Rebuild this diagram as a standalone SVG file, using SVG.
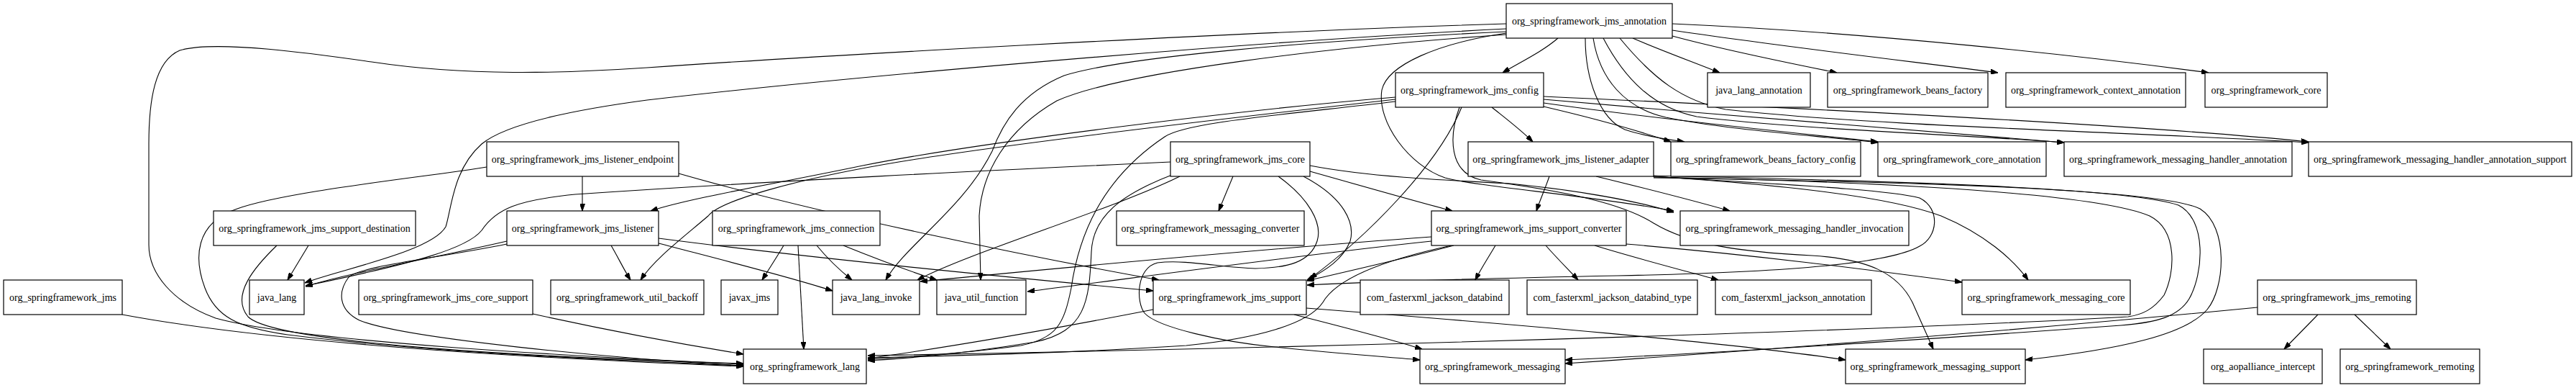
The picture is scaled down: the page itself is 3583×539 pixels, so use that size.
<svg xmlns="http://www.w3.org/2000/svg" width="3583" height="539" viewBox="0 0 3583 539">
<style>
.n rect{fill:#fff;stroke:#000;stroke-width:1.2}
.n text{font-family:"Liberation Serif","Times New Roman",serif;font-size:14px;text-anchor:middle;fill:#000}
.e path{fill:none;stroke:#000;stroke-width:1.1;marker-end:url(#ah)}
</style>
<defs>
<marker id="ah" viewBox="0 0 10 7" refX="10" refY="3.5" markerWidth="10" markerHeight="7" markerUnits="userSpaceOnUse" orient="auto">
<path d="M0,0 L10,3.5 L0,7 z" fill="#000" stroke="#000"/>
</marker>
</defs>
<rect width="3583" height="539" fill="#fff"/>
<g id="edges" class="e">
<path d="M2167,53 C2145,72 2115,86 2090,101"/>
<path d="M2271,53 C2310,70 2360,88 2392,101"/>
<path d="M2326,50 C2400,70 2490,88 2555,101"/>
<path d="M2326,42 C2480,65 2680,88 2779,101"/>
<path d="M2326,33 C2600,45 2900,78 3072,101"/>
<path d="M2205,53 C2205,110 2225,165 2260,180 C2290,190 2320,194 2343,197"/>
<path d="M2216,53 C2225,110 2260,150 2317,163 C2400,180 2520,188 2612,198"/>
<path d="M2230,53 C2260,110 2300,150 2360,162 C2500,180 2750,188 2871,198"/>
<path d="M2253,53 C2300,110 2340,140 2400,152 C2600,175 3000,185 3211,198"/>
<path d="M2095,33 C1700,45 1100,80 900,94 C780,102 650,106 517,86 C440,75 300,55 250,70 C215,85 207,140 207,200 L207,340 C207,380 240,420 300,442 C420,475 800,495 1034,506"/>
<path d="M2095,40 C1700,60 1150,110 900,139 C780,155 700,175 670,200 C630,235 628,290 620,315 C600,350 470,375 424,393"/>
<path d="M2095,44 C1800,58 1560,80 1480,105 C1420,130 1395,170 1380,210 C1340,290 1260,340 1232,389"/>
<path d="M2095,48 C1850,65 1560,100 1470,140 C1400,180 1365,240 1362,300 L1364,389"/>
<path d="M2095,46 C2000,60 1930,90 1922,125 C1915,170 1960,230 2010,247 C2060,260 2200,270 2328,293"/>
<path d="M2075,149 C2095,165 2115,180 2132,197"/>
<path d="M2147,148 C2220,165 2280,182 2324,197"/>
<path d="M2147,143 C2300,165 2500,185 2612,197"/>
<path d="M2147,138 C2400,160 2700,185 2871,198"/>
<path d="M2147,134 C2500,150 3000,175 3211,197"/>
<path d="M1941,135 C1700,155 1350,200 1200,230 C1080,255 960,275 905,293"/>
<path d="M1941,138 C1700,165 1400,200 1250,225 C1100,250 1000,280 985,300 C950,330 910,360 891,389"/>
<path d="M1941,141 C1780,160 1650,170 1620,190 C1530,250 1500,330 1490,400 C1480,450 1470,470 1420,480 C1350,490 1280,495 1207,499"/>
<path d="M2033,149 C2000,230 1900,330 1822,387"/>
<path d="M2030,149 C2015,190 2015,240 2060,250 C2150,262 2250,278 2300,310 C2350,340 2420,350 2520,355 C2600,360 2640,380 2660,420 L2689,485"/>
<path d="M810,245 L810,293"/>
<path d="M677,232 C600,245 400,265 330,290 C270,310 270,360 285,400 C300,440 330,455 400,465 C600,490 850,500 1034,508"/>
<path d="M944,241 C1150,300 1450,360 1612,389"/>
<path d="M1628,225 C1350,238 1100,250 800,270 C720,278 690,290 670,320 C650,345 580,365 425,397"/>
<path d="M1715,245 L1695,293"/>
<path d="M1822,238 C1900,260 1970,280 2020,293"/>
<path d="M1822,230 C1900,245 2000,250 2100,255 C2200,265 2280,280 2328,295"/>
<path d="M1641,245 C1550,290 1350,350 1276,389"/>
<path d="M1630,243 C1560,270 1520,300 1518,350 C1515,420 1510,460 1440,475 C1350,490 1260,498 1207,501"/>
<path d="M1813,245 C1870,275 1885,310 1878,335 C1868,360 1845,375 1818,389"/>
<path d="M1778,245 C1820,275 1840,310 1832,335 C1822,365 1790,372 1746,373 C1700,372 1650,360 1610,365 C1580,372 1580,420 1592,435 C1610,455 1700,475 1773,482 C1850,490 1930,496 1975,500"/>
<path d="M2155,245 C2150,260 2142,278 2137,293"/>
<path d="M2220,245 C2290,262 2360,280 2406,293"/>
<path d="M2300,245 C2450,255 2620,270 2700,300 C2760,325 2800,360 2821,389"/>
<path d="M2299,245 C2450,255 2620,262 2670,275 C2700,290 2695,330 2670,342 C2630,365 2500,378 2250,383 C2050,387 1900,392 1818,396"/>
<path d="M2300,246 C2500,250 2900,262 2990,300 C3030,320 3025,380 3010,410 C2995,430 2980,437 2960,440 C2700,455 2000,480 1207,494"/>
<path d="M2300,244 C2550,250 2950,258 3030,285 C3070,305 3065,380 3045,415 C3030,440 3000,448 2950,452 C2700,470 2400,490 2177,500"/>
<path d="M2300,247 C2600,252 3000,260 3060,290 C3100,315 3095,400 3070,430 C3040,465 2950,485 2817,500"/>
<path d="M429,341 L400,389"/>
<path d="M385,341 C355,370 320,410 345,440 C380,475 700,495 1034,505"/>
<path d="M705,335 C620,355 480,380 425,398"/>
<path d="M705,339 C600,360 500,370 485,385 C470,405 470,430 500,445 C560,470 850,498 1034,508"/>
<path d="M850,341 C860,358 868,375 877,389"/>
<path d="M916,338 C1000,360 1100,385 1158,404"/>
<path d="M916,331 C1100,355 1400,385 1604,404"/>
<path d="M1090,341 C1080,358 1070,373 1060,389"/>
<path d="M1136,341 C1150,358 1165,373 1185,389"/>
<path d="M1110,341 L1118,485"/>
<path d="M1173,341 C1220,360 1260,375 1303,389"/>
<path d="M2080,341 C2070,358 2060,373 2052,389"/>
<path d="M2150,341 C2165,358 2180,373 2195,389"/>
<path d="M2218,341 C2280,360 2350,378 2390,389"/>
<path d="M2022,341 C1950,360 1870,378 1818,390"/>
<path d="M2019,341 C1930,360 1860,385 1840,420 C1820,450 1750,470 1650,480 C1500,490 1300,495 1207,497"/>
<path d="M1991,329 C1700,350 1450,375 1280,391"/>
<path d="M1991,335 C1800,355 1550,390 1429,405"/>
<path d="M2262,339 C2450,355 2600,375 2729,392"/>
<path d="M1604,430 C1450,460 1300,485 1207,498"/>
<path d="M1800,437 C1870,455 1930,470 1978,485"/>
<path d="M1817,428 C2100,450 2400,475 2567,500"/>
<path d="M170,437 C400,480 800,500 1034,509"/>
<path d="M741,436 C850,460 960,480 1034,492"/>
<path d="M3224,437 L3177,485"/>
<path d="M3275,437 L3325,485"/>
<path d="M3140,427 C2800,460 2400,490 2177,505"/>
</g>
<g id="n_jms_annotation" class="n"><rect x="2095" y="5" width="231" height="48"/><text x="2210.5" y="34">org_springframework_jms_annotation</text></g>
<g id="n_jms_config" class="n"><rect x="1941" y="101" width="206" height="48"/><text x="2044" y="130">org_springframework_jms_config</text></g>
<g id="n_java_lang_annotation" class="n"><rect x="2375" y="101" width="143" height="48"/><text x="2446.5" y="130">java_lang_annotation</text></g>
<g id="n_beans_factory" class="n"><rect x="2542" y="101" width="223" height="48"/><text x="2653.5" y="130">org_springframework_beans_factory</text></g>
<g id="n_context_annotation" class="n"><rect x="2790" y="101" width="250" height="48"/><text x="2915" y="130">org_springframework_context_annotation</text></g>
<g id="n_core" class="n"><rect x="3067" y="101" width="170" height="48"/><text x="3152" y="130">org_springframework_core</text></g>
<g id="n_listener_endpoint" class="n"><rect x="677" y="197" width="267" height="48"/><text x="810.5" y="226">org_springframework_jms_listener_endpoint</text></g>
<g id="n_jms_core" class="n"><rect x="1628" y="197" width="194" height="48"/><text x="1725" y="226">org_springframework_jms_core</text></g>
<g id="n_listener_adapter" class="n"><rect x="2042" y="197" width="258" height="48"/><text x="2171" y="226">org_springframework_jms_listener_adapter</text></g>
<g id="n_beans_factory_config" class="n"><rect x="2324" y="197" width="264" height="48"/><text x="2456" y="226">org_springframework_beans_factory_config</text></g>
<g id="n_core_annotation" class="n"><rect x="2612" y="197" width="234" height="48"/><text x="2729" y="226">org_springframework_core_annotation</text></g>
<g id="n_messaging_handler_annotation" class="n"><rect x="2871" y="197" width="317" height="48"/><text x="3029.5" y="226">org_springframework_messaging_handler_annotation</text></g>
<g id="n_messaging_handler_annotation_support" class="n"><rect x="3211" y="197" width="366" height="48"/><text x="3394" y="226">org_springframework_messaging_handler_annotation_support</text></g>
<g id="n_support_destination" class="n"><rect x="297" y="293" width="281" height="48"/><text x="437.5" y="322">org_springframework_jms_support_destination</text></g>
<g id="n_listener" class="n"><rect x="705" y="293" width="211" height="48"/><text x="810.5" y="322">org_springframework_jms_listener</text></g>
<g id="n_connection" class="n"><rect x="991" y="293" width="233" height="48"/><text x="1107.5" y="322">org_springframework_jms_connection</text></g>
<g id="n_messaging_converter" class="n"><rect x="1553" y="293" width="261" height="48"/><text x="1683.5" y="322">org_springframework_messaging_converter</text></g>
<g id="n_support_converter" class="n"><rect x="1991" y="293" width="271" height="48"/><text x="2126.5" y="322">org_springframework_jms_support_converter</text></g>
<g id="n_handler_invocation" class="n"><rect x="2337" y="293" width="318" height="48"/><text x="2496" y="322">org_springframework_messaging_handler_invocation</text></g>
<g id="n_jms" class="n"><rect x="5" y="389" width="165" height="48"/><text x="87.5" y="418">org_springframework_jms</text></g>
<g id="n_java_lang" class="n"><rect x="347" y="389" width="76" height="48"/><text x="385" y="418">java_lang</text></g>
<g id="n_core_support" class="n"><rect x="499" y="389" width="242" height="48"/><text x="620" y="418">org_springframework_jms_core_support</text></g>
<g id="n_util_backoff" class="n"><rect x="766" y="389" width="213" height="48"/><text x="872.5" y="418">org_springframework_util_backoff</text></g>
<g id="n_javax_jms" class="n"><rect x="1003" y="389" width="79" height="48"/><text x="1042.5" y="418">javax_jms</text></g>
<g id="n_java_lang_invoke" class="n"><rect x="1158" y="389" width="121" height="48"/><text x="1218.5" y="418">java_lang_invoke</text></g>
<g id="n_java_util_function" class="n"><rect x="1303" y="389" width="124" height="48"/><text x="1365" y="418">java_util_function</text></g>
<g id="n_jms_support" class="n"><rect x="1604" y="389" width="213" height="48"/><text x="1710.5" y="418">org_springframework_jms_support</text></g>
<g id="n_jackson_databind" class="n"><rect x="1892" y="389" width="207" height="48"/><text x="1995.5" y="418">com_fasterxml_jackson_databind</text></g>
<g id="n_jackson_databind_type" class="n"><rect x="2124" y="389" width="237" height="48"/><text x="2242.5" y="418">com_fasterxml_jackson_databind_type</text></g>
<g id="n_jackson_annotation" class="n"><rect x="2386" y="389" width="217" height="48"/><text x="2494.5" y="418">com_fasterxml_jackson_annotation</text></g>
<g id="n_messaging_core" class="n"><rect x="2729" y="389" width="234" height="48"/><text x="2846" y="418">org_springframework_messaging_core</text></g>
<g id="n_jms_remoting" class="n"><rect x="3140" y="389" width="221" height="48"/><text x="3250.5" y="418">org_springframework_jms_remoting</text></g>
<g id="n_lang" class="n"><rect x="1034" y="485" width="171" height="48"/><text x="1119.5" y="514">org_springframework_lang</text></g>
<g id="n_messaging" class="n"><rect x="1975" y="485" width="202" height="48"/><text x="2076" y="514">org_springframework_messaging</text></g>
<g id="n_messaging_support" class="n"><rect x="2567" y="485" width="250" height="48"/><text x="2692" y="514">org_springframework_messaging_support</text></g>
<g id="n_aopalliance_intercept" class="n"><rect x="3065" y="485" width="165" height="48"/><text x="3147.5" y="514">org_aopalliance_intercept</text></g>
<g id="n_remoting" class="n"><rect x="3255" y="485" width="194" height="48"/><text x="3352" y="514">org_springframework_remoting</text></g>
</svg>
